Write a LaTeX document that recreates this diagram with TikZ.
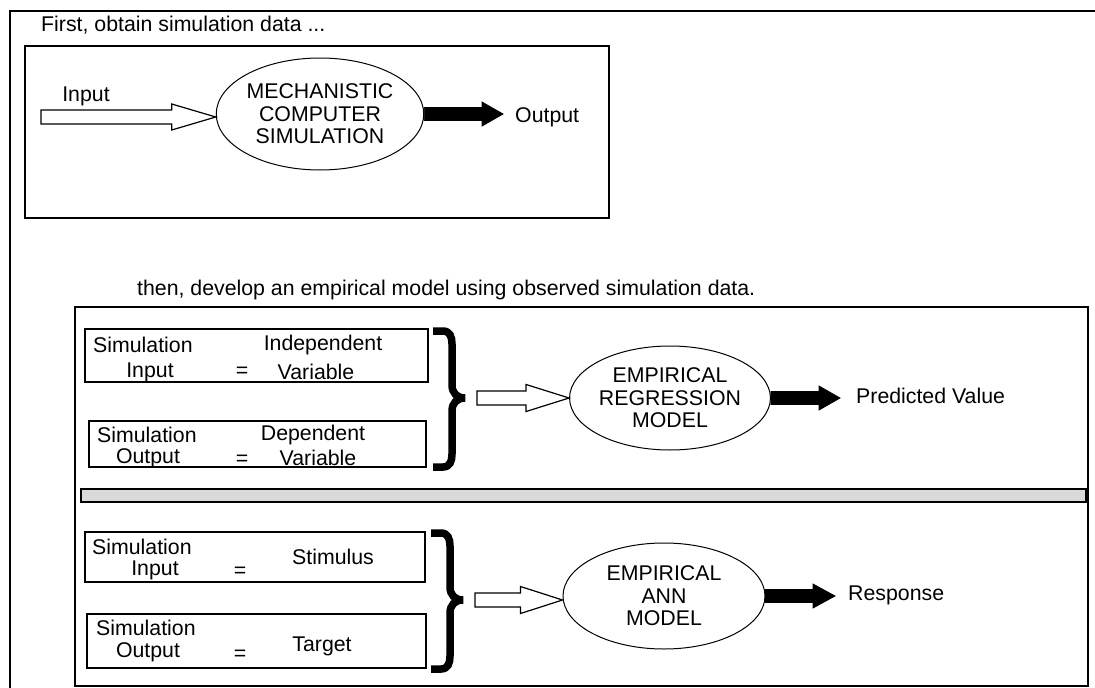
\documentclass[tikz,border=0pt]{standalone}
\usepackage{fontspec}
\setmainfont{Liberation Sans}
\usetikzlibrary{calc,shapes.geometric,positioning}

% fat arrow from #2 to #3: #4 half shaft, #5 half head, #6 head length
\newcommand{\fatarrow}[6]{%
  \draw[#1] let \p1=(#2), \p2=(#3) in
    (\x1,\y1-#4) -- (\x2-#6,\y1-#4) -- (\x2-#6,\y1-#5) -- (\x2,\y1)
    -- (\x2-#6,\y1+#5) -- (\x2-#6,\y1+#4) -- (\x1,\y1+#4) -- cycle;}

\begin{document}
\begin{tikzpicture}[
  x=1pt, y=-1pt,
  font=\fontsize{21.3}{22.5}\selectfont,
  frame/.style={draw, line width=1.3pt},
  lbl/.style={inner sep=0pt},
  simbox/.style={
    draw,
    line width=1.3pt,
    inner sep=0pt,
    minimum width=#1
    },
  model/.style={
    draw,
    ellipse,
    line width=1pt,
    inner sep=0pt,
    align=center,
    minimum width=#1
    },
  hollowarrow/.style={draw, fill=white, line width=1.2pt, line join=miter},
  solidarrow/.style={draw, fill=black, line width=0.8pt},
  band/.style={draw, line width=1.5pt, fill=black!15},
  pics/curly/.style={code={
    \draw[line width=7.5pt]
      (-32,-67) -- (-22,-67) .. controls (-15,-67) and (-13,-61) .. (-13,-54)
      -- (-13,-13) .. controls (-13,-5) and (-8,0) .. (0,0)
      .. controls (-8,0) and (-13,5) .. (-13,13)
      -- (-13,56) .. controls (-13,63) and (-15,69) .. (-22,69) -- (-32,69);
    }}
]
\useasboundingbox (0,0) rectangle (1095,688);

% frames
\draw[frame] (1095,11) -- (10,11) -- (10,688);
\draw[frame] (25,46) rectangle (609,218);
\draw[frame] (75,307) rectangle (1088,686);
\draw[band] (81,489) rectangle (1086,502);

\node[lbl, anchor=west] (first) at (41,25) {First, obtain simulation data ...};
\node[lbl, anchor=west] (then) at (137,290) {then, develop an empirical model using observed simulation data.};

% mechanistic simulation
\node[model=206pt, minimum height=112pt] (mech) at (320,114) {MECHANISTIC\\COMPUTER\\SIMULATION};
\coordinate (instart) at (41,117);
\node[lbl] (input) at (86,96) {Input};
\node[lbl, anchor=west] (output) at (515,117) {Output};
\fatarrow{hollowarrow}{instart}{mech.west}{7pt}{13pt}{44pt}
\fatarrow{solidarrow}{mech.east}{[xshift=-12pt]output.west}{6.5pt}{12pt}{21pt}

% data boxes
\node[simbox=343pt, minimum height=53pt] (indep) at (256.5,355.5) {};
\node[simbox=337pt, minimum height=46pt] (dep) at (257.5,444) {};
\node[simbox=340pt, minimum height=50pt] (stim) at (255,557) {};
\node[simbox=339pt, minimum height=54pt] (targ) at (256.5,641) {};

\foreach \px/\py [count=\i] in {93/345, 97/435, 92/547, 96/628}
\node[lbl, anchor=west] (sim\i) at (\px,\py) {Simulation};
\foreach \px/\py/\txt [count=\i] in {150/372/Input, 242/372/=, 323/345/Independent, 316/372/Variable,
  148/458/Output, 242/460/=, 313/435/Dependent, 318/458/Variable,
  155/570/Input, 240/572/=, 333/557/Stimulus,
  148/652/Output, 240/655/=, 322/646/Target}
\node[lbl] (cell\i) at (\px,\py) {\txt};

% braces
\pic at (465,398) {curly};
\coordinate (brace1) at (465,398);
\pic at (463,600) {curly};
\coordinate (brace2) at (463,600);

% regression model
\node[model=196pt, minimum height=104pt] (regr) at (670,398) {EMPIRICAL\\REGRESSION\\MODEL};
\node[lbl, anchor=west] (pred) at (856,396) {Predicted Value};
\fatarrow{hollowarrow}{[xshift=12pt]brace1}{regr.west}{7pt}{13.5pt}{43pt}
\fatarrow{solidarrow}{regr.east}{[xshift=-16pt]pred.west}{6.5pt}{12pt}{21pt}

% ANN model
\node[model=202pt, minimum height=106pt] (ann) at (664,596) {EMPIRICAL\\ANN\\MODEL};
\node[lbl, anchor=west] (resp) at (848,595) {Response};
\fatarrow{hollowarrow}{[xshift=12pt]brace2}{ann.west}{7pt}{13.5pt}{42pt}
\fatarrow{solidarrow}{ann.east}{[xshift=-13pt]resp.west}{6.5pt}{12pt}{22pt}

\end{tikzpicture}
\end{document}
